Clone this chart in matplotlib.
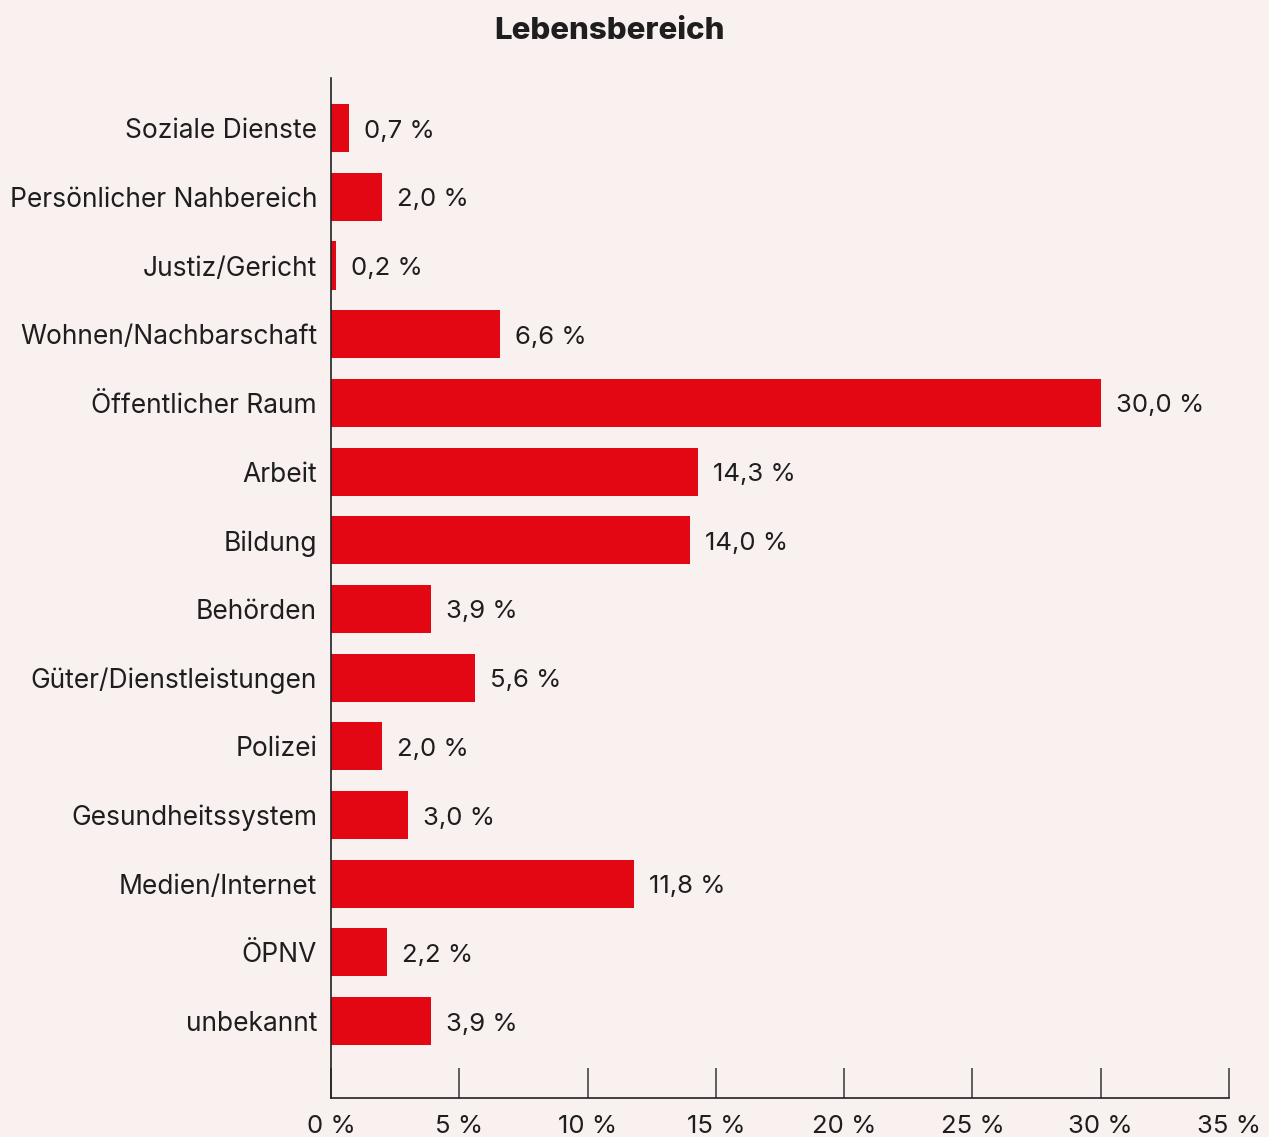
import matplotlib
matplotlib.use("Agg")
import matplotlib.pyplot as plt

categories = ["Soziale Dienste", "Persönlicher Nahbereich", "Justiz/Gericht",
              "Wohnen/Nachbarschaft", "Öffentlicher Raum", "Arbeit", "Bildung",
              "Behörden", "Güter/Dienstleistungen", "Polizei", "Gesundheitssystem",
              "Medien/Internet", "ÖPNV", "unbekannt"]
values = [0.7, 2.0, 0.2, 6.6, 30.0, 14.3, 14.0, 3.9, 5.6, 2.0, 3.0, 11.8, 2.2, 3.9]
xticks = [0, 5, 10, 15, 20, 25, 30, 35]
xtick_labels = ["0 %", "5 %", "10 %", "15 %", "20 %", "25 %", "30 %", "35 %"]
title = "Lebensbereich"

BG = "#F9F1EF"
RED = "#E30613"
TXT = "#1E1E1E"
FONT = ["Inter", "DejaVu Sans"]
plt.rcParams['font.family'] = FONT

fig = plt.figure(figsize=(12.69, 11.37), dpi=100, facecolor=BG)
W, H = 1269, 1137
ax = fig.add_axes([331 / W, 1 - 1098 / H, (1229 - 331) / W, (1098 - 78) / H])
ax.set_facecolor(BG)

y = list(range(len(categories)))
ax.barh(y, values, height=0.7, color=RED)
for yi, v in zip(y, values):
    ax.annotate(f"{v:.1f} %".replace(".", ","), (v, yi), xytext=(15, -3),
                textcoords="offset pixels",
                va="center", ha="left", fontsize=18.5, color=TXT)

ax.set_ylim(len(categories) - 1 + 1.12, -0.73)
ax.set_xlim(0, 35)
ax.set_yticks(y)
ax.set_yticklabels(categories, fontsize=19, color=TXT, va="center_baseline")
ax.set_xticks(xticks)
ax.set_xticklabels(xtick_labels, fontsize=18.5, color=TXT)
ax.tick_params(axis="y", length=0, pad=10)
ax.tick_params(axis="x", direction="in", length=21.6, width=1.2, color="#444444", pad=12)
for s in ["top", "right"]:
    ax.spines[s].set_visible(False)
for s in ["left", "bottom"]:
    ax.spines[s].set_color("#222222")
    ax.spines[s].set_linewidth(1.2)

fig.text(610 / W, 1 - 28 / H, title, ha="center", va="center_baseline",
         fontsize=22.5, fontweight="heavy", color=TXT)

fig.savefig("out.png", dpi=100, facecolor=BG)
